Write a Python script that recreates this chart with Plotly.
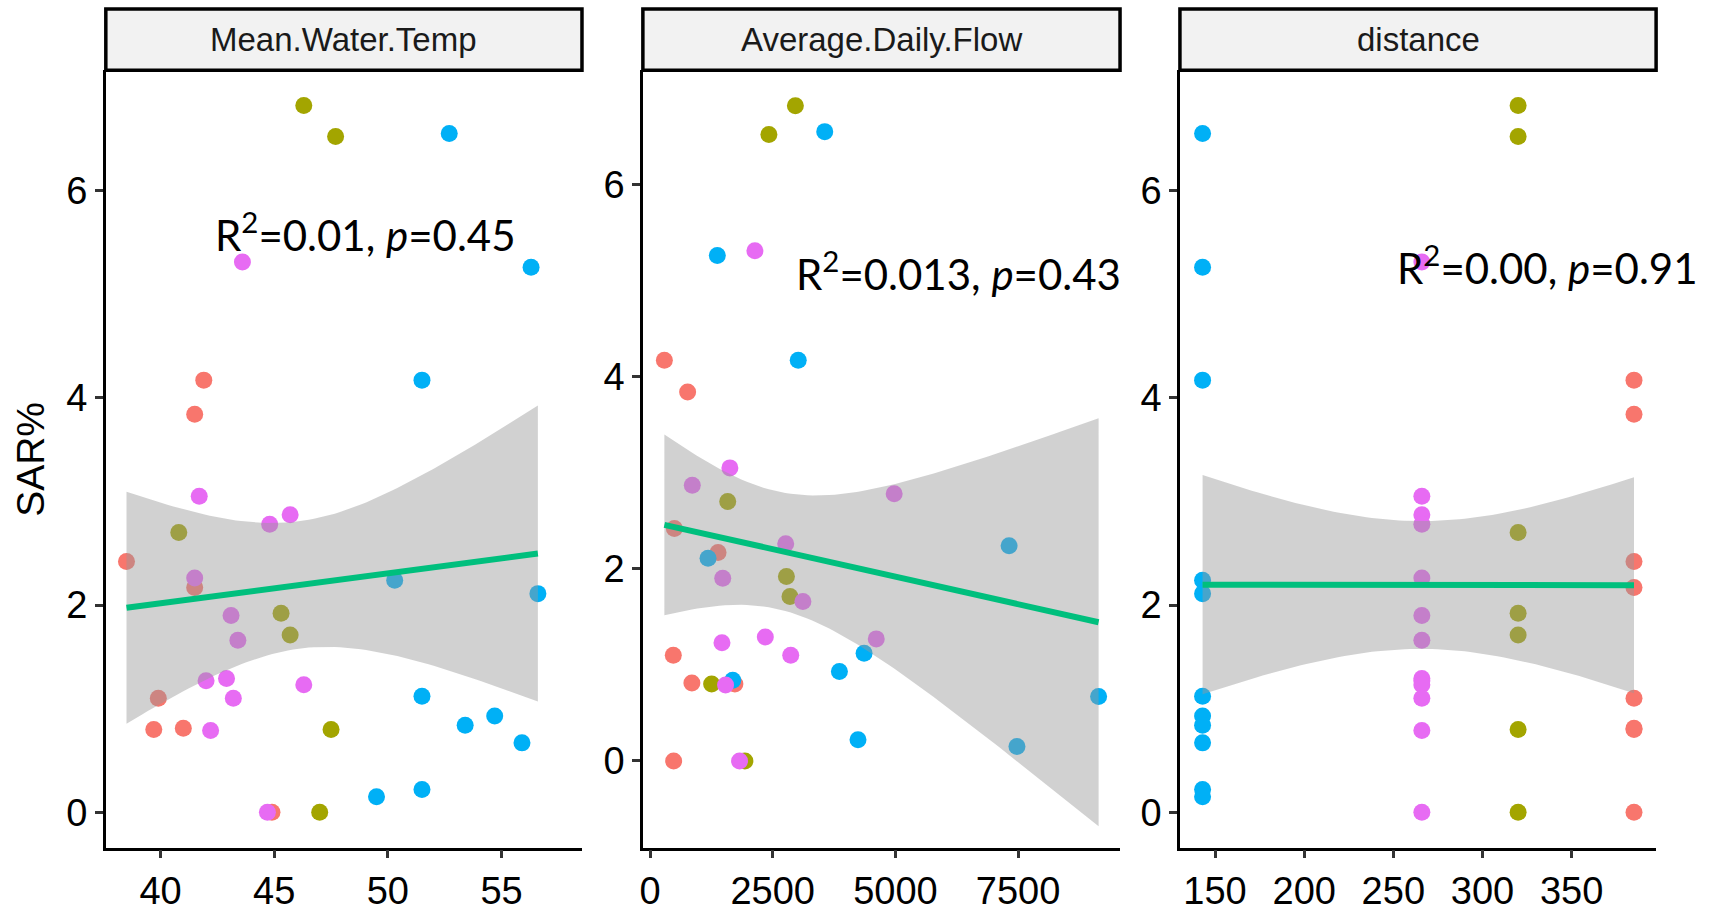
import numpy as np
import plotly.graph_objects as go

# ---------------- data ----------------
groups = ["red"] * 8 + ["olive"] * 7 + ["blue"] * 11 + ["magenta"] * 13
sar = [4.17, 3.84, 2.42, 2.17, 1.10, 0.81, 0.80, 0.00,
       6.82, 6.52, 2.70, 1.92, 1.71, 0.80, 0.00,
       6.55, 5.26, 4.17, 2.24, 2.11, 1.12, 0.93, 0.84, 0.67, 0.22, 0.15,
       5.31, 3.05, 2.87, 2.78, 2.26, 1.90, 1.66, 1.29, 1.27, 1.23, 1.10, 0.79, 0.00]
mean_water_temp = [41.9, 41.5, 38.5, 41.5, 39.9, 41.0, 39.7, 44.9,
                   46.3, 47.7, 40.8, 45.3, 45.7, 47.5, 47.0,
                   52.7, 56.3, 51.5, 50.3, 56.6, 51.5, 54.7, 53.4, 55.9, 51.5, 49.5,
                   43.6, 41.7, 45.7, 44.8, 41.5, 43.1, 43.4, 42.9, 42.0, 46.3, 43.2, 42.2, 44.7]
average_daily_flow = [292, 766, 496, 1386, 474, 853, 1729, 481,
                      2962, 2422, 1583, 2779, 2852, 1255, 1933,
                      3560, 1371, 3020, 7317, 1182, 4362, 3859, 1685, 9141, 4238, 7477,
                      2137, 1627, 861, 4975, 2765, 1481, 3115, 2349, 4610, 1466, 2867, 1539, 1824]
distance = [385] * 8 + [320] * 7 + [143] * 11 + [266] * 13

panel_names = ["Mean.Water.Temp", "Average.Daily.Flow", "distance"]
panel_x = [mean_water_temp, average_daily_flow, distance]
stat_labels = ["R<sup>2</sup>=0.01, <i>p</i>=0.45",
               "R<sup>2</sup>=0.013, <i>p</i>=0.43",
               "R<sup>2</sup>=0.00, <i>p</i>=0.91"]
x_ticks = [[40, 45, 50, 55], [0, 2500, 5000, 7500], [150, 200, 250, 300, 350]]
y_ticks = [0, 2, 4, 6]

# ---------------- styles / layout ----------------
colors = {"red": "#F8766D", "olive": "#A3A500", "blue": "#00B0F6", "magenta": "#E76BF3"}
W, H = 1713, 912
px_left = [103, 641, 1179]
px_right = [580, 1119, 1656]
plot_top, plot_bottom, strip_top = 71, 858, 9
x_ranges = [[37.59, 58.54], [-146, 9578], [130.3, 397.4]]
y_ranges = [[-0.341, 7.161], [-0.903, 7.19], [-0.341, 7.161]]
ann_pos = [(42.31, 5.60), (2940, 5.10), (251.2, 5.28)]
FONT = "Liberation Sans"

fig = go.Figure()
yv = np.array(sar, dtype=float)
tq = 2.026  # t(0.975, df=37)

for i, xv_list in enumerate(panel_x):
    xa = "x" if i == 0 else f"x{i+1}"
    ya = "y" if i == 0 else f"y{i+1}"
    xv = np.array(xv_list, dtype=float)
    for g in ["red", "olive", "blue", "magenta"]:
        idx = [k for k, gg in enumerate(groups) if gg == g]
        fig.add_trace(go.Scatter(
            x=xv[idx], y=yv[idx], mode="markers", xaxis=xa, yaxis=ya,
            marker=dict(color=colors[g], size=17, line=dict(width=0)),
            showlegend=False))
    # linear fit with 95% confidence band
    n = len(xv)
    b1, b0 = np.polyfit(xv, yv, 1)
    resid = yv - (b0 + b1 * xv)
    s2 = np.sum(resid ** 2) / (n - 2)
    xbar = xv.mean()
    sxx = np.sum((xv - xbar) ** 2)
    xs = np.linspace(xv.min(), xv.max(), 80)
    fit = b0 + b1 * xs
    se = np.sqrt(s2 * (1.0 / n + (xs - xbar) ** 2 / sxx))
    up, lo = fit + tq * se, fit - tq * se
    fig.add_trace(go.Scatter(
        x=np.concatenate([xs, xs[::-1]]), y=np.concatenate([up, lo[::-1]]),
        mode="lines", fill="toself", fillcolor="rgba(153,153,153,0.45)",
        line=dict(width=0), xaxis=xa, yaxis=ya, showlegend=False, hoverinfo="skip"))
    fig.add_trace(go.Scatter(
        x=xs, y=fit, mode="lines", line=dict(color="#00BF7D", width=6),
        xaxis=xa, yaxis=ya, showlegend=False))

axis_common = dict(showgrid=False, zeroline=False, showline=True, linecolor="black",
                   linewidth=2.5, ticks="outside", ticklen=8, tickwidth=2.5,
                   tickcolor="#333333",
                   tickfont=dict(family=FONT, size=38, color="black"))

y0 = (H - plot_bottom) / H
y1 = (H - plot_top) / H
ys = (H - strip_top) / H
layout = dict(width=W, height=H, margin=dict(l=0, r=0, t=0, b=0), autosize=False,
              plot_bgcolor="white", paper_bgcolor="white", showlegend=False)
shapes, annotations = [], []
for i in range(3):
    xk = "xaxis" if i == 0 else f"xaxis{i+1}"
    yk = "yaxis" if i == 0 else f"yaxis{i+1}"
    dom = [px_left[i] / W, px_right[i] / W]
    layout[xk] = dict(domain=dom, range=x_ranges[i], tickvals=x_ticks[i],
                      anchor="y" if i == 0 else f"y{i+1}", **axis_common)
    layout[yk] = dict(domain=[y0, y1], range=y_ranges[i], tickvals=y_ticks,
                      anchor="x" if i == 0 else f"x{i+1}", **axis_common)
    shapes.append(dict(type="rect", xref="paper", yref="paper",
                       x0=dom[0], x1=dom[1], y0=y1, y1=ys,
                       fillcolor="#F2F2F2", line=dict(color="black", width=3.5)))
    annotations.append(dict(xref="paper", yref="paper", x=(dom[0] + dom[1]) / 2,
                            y=(y1 + ys) / 2, text=panel_names[i], showarrow=False,
                            xanchor="center", yanchor="middle",
                            font=dict(family=FONT, size=33, color="#1A1A1A")))
    xr = "x" if i == 0 else f"x{i+1}"
    yr = "y" if i == 0 else f"y{i+1}"
    annotations.append(dict(xref=xr, yref=yr, x=ann_pos[i][0], y=ann_pos[i][1],
                            text=stat_labels[i], showarrow=False,
                            xanchor="left", yanchor="middle",
                            font=dict(family="Lato", size=42, color="black")))

annotations.append(dict(xref="paper", yref="paper", x=28 / W, y=(y0 + y1) / 2,
                        text="SAR%", textangle=-90, showarrow=False,
                        xanchor="center", yanchor="middle",
                        font=dict(family=FONT, size=39, color="black")))
layout["shapes"] = shapes
layout["annotations"] = annotations
fig.update_layout(**layout)

post = ("var s=document.createElement('style');"
        "s.innerHTML='html,body{margin:0;padding:0;overflow:hidden;}';"
        "document.head.appendChild(s);")
fig.write_html("out.html", config={"displayModeBar": False}, post_script=post)
